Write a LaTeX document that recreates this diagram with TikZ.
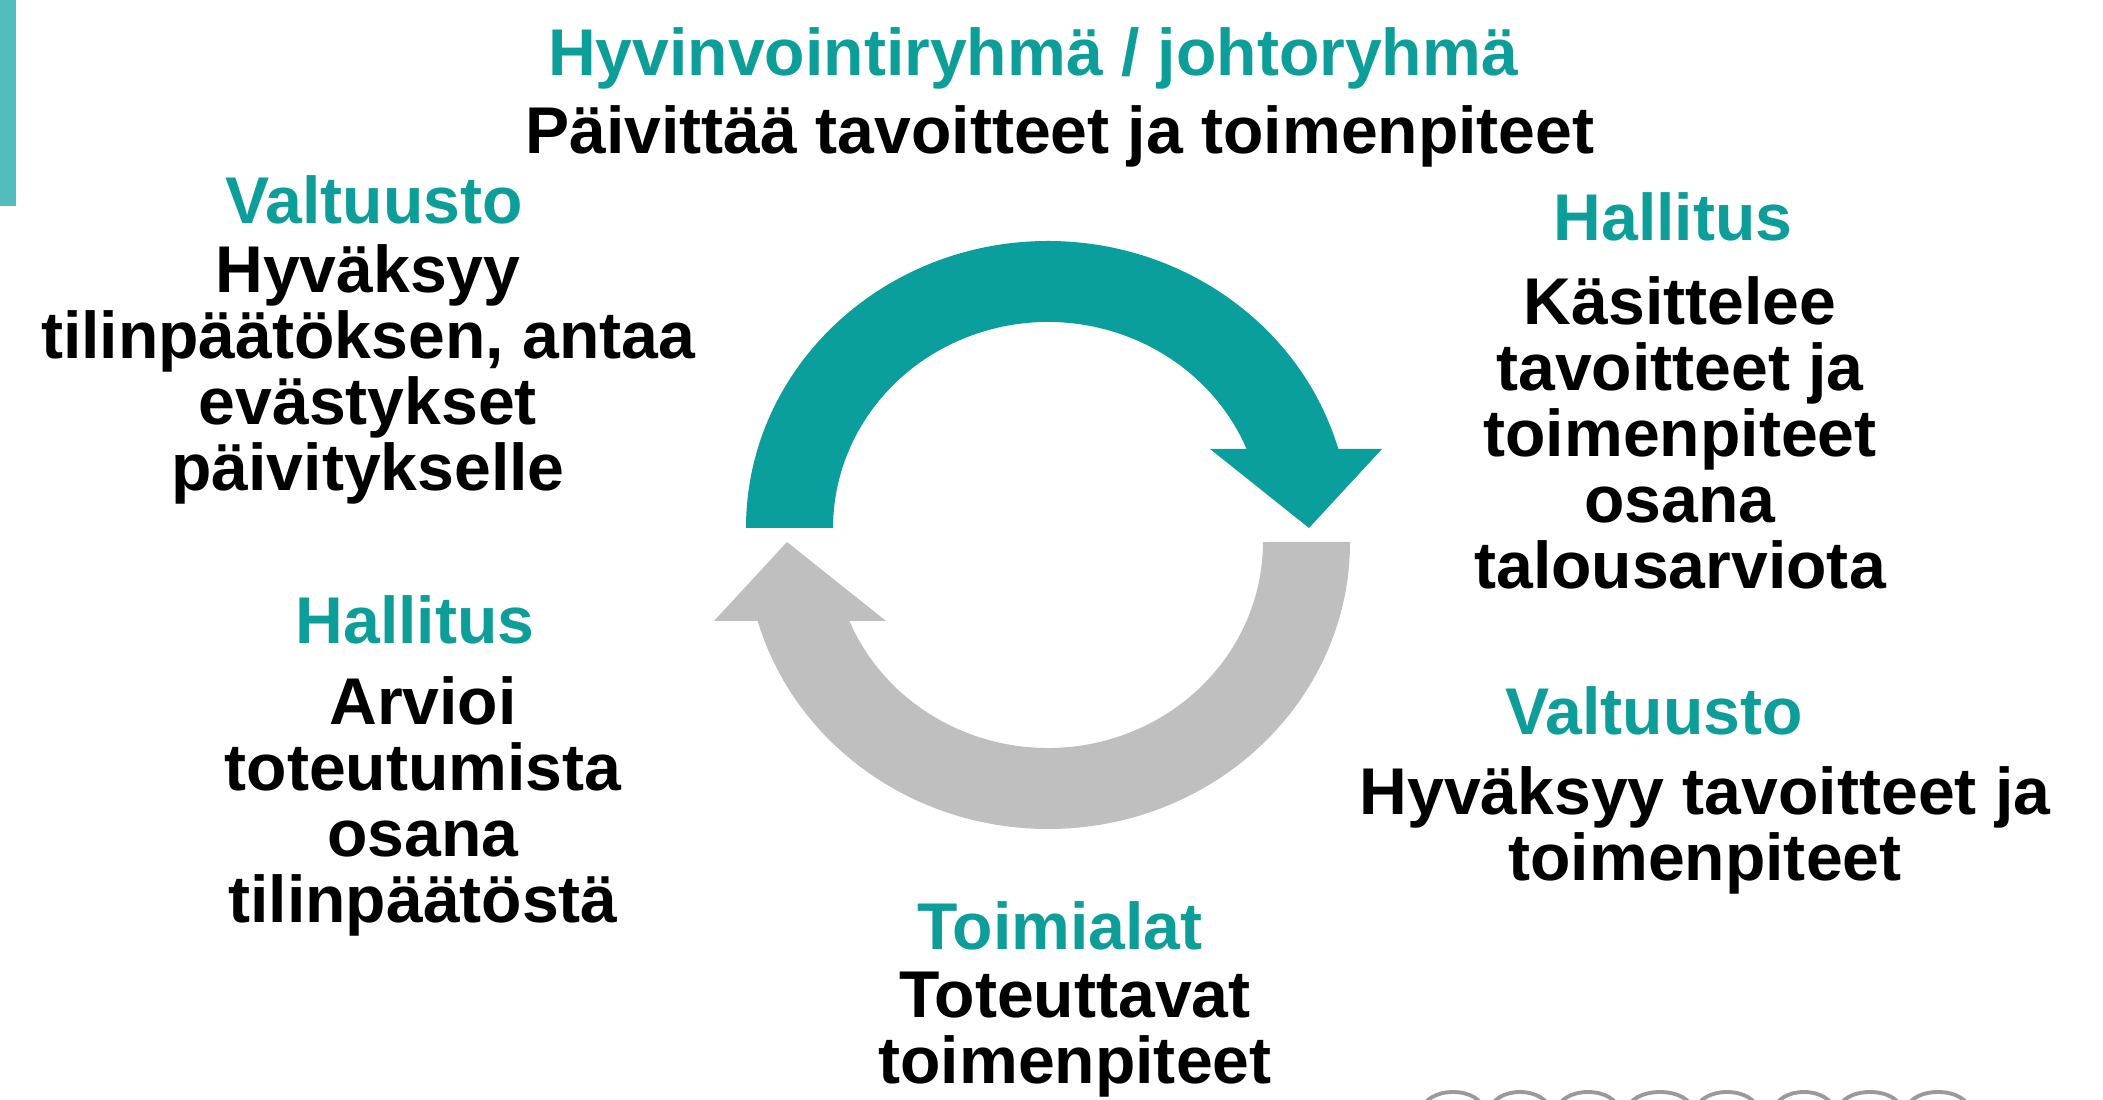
\documentclass[tikz,border=0pt]{standalone}
\usepackage{fontspec}
\setmainfont{Liberation Sans}
\usepackage{xcolor}
\usetikzlibrary{positioning}

\definecolor{barteal}{HTML}{52BDBD}
\definecolor{arrowteal}{HTML}{0A9E9C}
\definecolor{textteal}{HTML}{0E9E9A}
\definecolor{arrowgrey}{HTML}{BFBFBF}
\definecolor{ringgrey}{HTML}{9A9A9A}

\begin{document}
\begin{tikzpicture}[
        x=0.01cm, y=0.01cm,
        every node/.style={align=center, inner sep=0pt, anchor=base,
            font=\fontsize{18.8pt}{18.8pt}\selectfont\bfseries},
        head/.style={textteal},
        body/.style={black},
        logoring/.style={draw=ringgrey, line width=1.1pt}
    ]
        \useasboundingbox (0,0) rectangle (2103,1100);
        \fill[barteal] (0,894) rectangle (16,1100);

        % cycle arrows
        \fill[arrowteal, shift={(1048,572)}]
            (-302,0) arc[start angle=180, end angle=15.98, x radius=302, y radius=287]
            -- (334,79) -- (261,0) -- (162,79) -- (198.6,79)
            arc[start angle=22.55, end angle=180, x radius=215, y radius=206] -- cycle;
        \fill[arrowgrey, shift={(1048,558)}, rotate=180]
            (-302,0) arc[start angle=180, end angle=15.98, x radius=302, y radius=287]
            -- (334,79) -- (261,0) -- (162,79) -- (198.6,79)
            arc[start angle=22.55, end angle=180, x radius=215, y radius=206] -- cycle;

        % base of a multi-line node is its last line
        \node[head] (ryhma) at (1033,1024) {Hyvinvointiryhmä / johtoryhmä};
        \node[body] (paivittaa) at (1060,946) {Päivittää tavoitteet ja toimenpiteet};

        \node[head] (valtuusto1) at (374,876) {Valtuusto};
        \node[body] (hyvaksyy1) at (368,609) {Hyväksyy\\ tilinpäätöksen, antaa\\ evästykset\\ päivitykselle};

        \node[head] (hallitus1) at (1673,859) {Hallitus};
        \node[body] (kasittelee) at (1680,511) {Käsittelee\\ tavoitteet ja\\ toimenpiteet\\ osana\\ talousarviota};

        \node[head] (hallitus2) at (415,456) {Hallitus};
        \node[body] (arvioi) at (423,177) {Arvioi\\ toteutumista\\ osana\\ tilinpäätöstä};

        \node[head] (valtuusto2) at (1654,365) {Valtuusto};
        \node[body] (hyvaksyy2) at (1705,219) {Hyväksyy tavoitteet ja\\ toimenpiteet};

        \node[head] (toimialat) at (1060,150) {Toimialat};
        \node[body] (toteuttavat) at (1075,16) {Toteuttavat\\ toimenpiteet};

        \foreach \cx/\rx in {1453/30, 1520/29, 1588/30, 1660/32, 1727/30, 1804/29, 1870/31, 1938/31}
            \draw[logoring] (\cx,-10) ellipse [x radius=\rx, y radius=18];
    \end{tikzpicture}
\end{document}
